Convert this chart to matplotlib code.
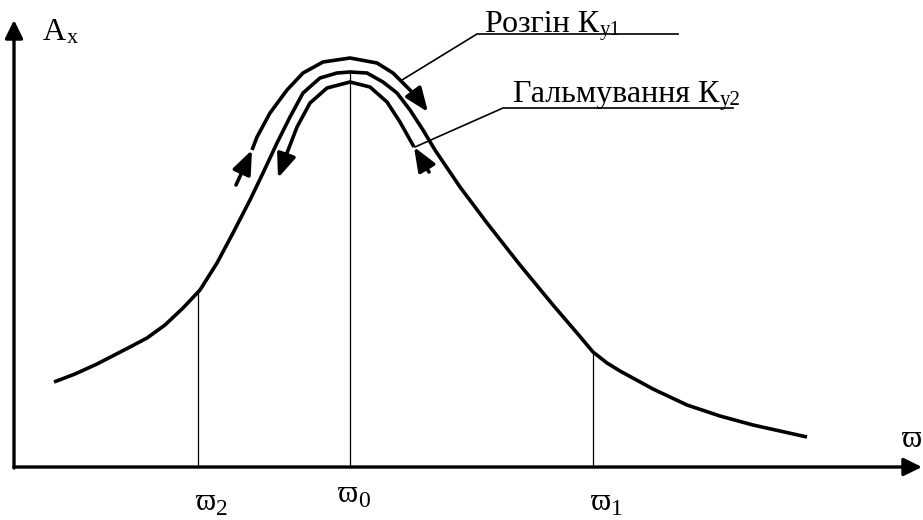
import matplotlib
matplotlib.use('Agg')
import matplotlib.pyplot as plt

plt.rcParams['font.family'] = ['Liberation Serif', 'DejaVu Serif']

# Main resonance curve A_x(ϖ)  (x: frequency units, y: amplitude units)
curve_w = [40, 61, 83, 116, 133, 151, 169, 186, 203, 219, 236, 249, 263, 276, 289, 306, 323, 336, 353,
           369, 383, 396, 409, 421, 446, 473, 506, 539, 563, 579, 593, 606, 639, 673, 706, 739, 793]
curve_a = [85, 93, 103, 120, 129, 142, 159, 177, 204, 234, 267, 294, 324, 350, 374, 389, 394, 395, 394,
           385, 374, 357, 337, 317, 280, 244, 202, 162, 134, 115, 104, 96, 78, 62, 51, 42, 30]

# Acceleration arc (Розгін)
accel_w = [238, 243, 256, 273, 289, 309, 336, 363, 379, 393, 403, 414]
accel_a = [317, 330, 354, 377, 394, 405, 409, 404, 394, 380, 370, 355]
accel_tail = (222, 282)

# Braking arc (Гальмування)
brake_w = [264, 273, 283, 296, 313, 336, 356, 373, 386, 400]
brake_a = [289, 314, 340, 364, 379, 385, 380, 365, 345, 320]
brake_tail = (415, 295)

# Characteristic frequencies and curve values there
omega_w = [184, 336, 579]
omega_a = [177, 395, 115]
omega_sub = ['2', '0', '1']

fig = plt.figure(figsize=(9.23, 5.2), dpi=100)
ax = fig.add_axes([0, 0, 1, 1])
ax.set_xlim(-14, 909)
ax.set_ylim(-53, 467)
ax.axis('off')

K = 'black'
# axes with arrows
ax.annotate('', xy=(908, 0), xytext=(0, 0),
            arrowprops=dict(arrowstyle='-|>,head_length=0.55,head_width=0.27', mutation_scale=20,
                            lw=2.4, color=K, shrinkA=0, shrinkB=0))
ax.annotate('', xy=(0, 447), xytext=(0, -1),
            arrowprops=dict(arrowstyle='-|>,head_length=0.55,head_width=0.27', mutation_scale=20,
                            lw=2.4, color=K, shrinkA=0, shrinkB=0))

# main curve
ax.plot(curve_w, curve_a, color=K, lw=2.6, solid_capstyle='butt', solid_joinstyle='round')

# vertical markers
for w, a in zip(omega_w, omega_a):
    ax.plot([w, w], [0, a], color=K, lw=0.9)

arrow_small = dict(arrowstyle='-|>,head_length=0.8,head_width=0.32', mutation_scale=18,
                   lw=2.6, color=K, shrinkA=0, shrinkB=0)

# acceleration arc: arrow tip at the right end, separate arrow at left
ax.plot(accel_w[:-1], accel_a[:-1], color=K, lw=2.6, solid_capstyle='butt', solid_joinstyle='round')
ax.annotate('', xy=(accel_w[-1], accel_a[-1]), xytext=(accel_w[-2], accel_a[-2]), arrowprops=arrow_small)
ax.annotate('', xy=(accel_w[0], accel_a[0]), xytext=accel_tail, arrowprops=arrow_small)

# braking arc: arrow tip at left end, separate arrow at right
ax.plot(brake_w[1:], brake_a[1:], color=K, lw=2.6, solid_capstyle='butt', solid_joinstyle='round')
ax.annotate('', xy=(brake_w[0], brake_a[0]), xytext=(brake_w[1], brake_a[1]), arrowprops=arrow_small)
ax.annotate('', xy=(brake_w[-1], brake_a[-1]), xytext=brake_tail, arrowprops=arrow_small)

# leader lines and underlines
ax.plot([388, 463, 664], [387, 433, 433], color=K, lw=1.2)
ax.plot([401, 489, 719], [320, 359, 359], color=K, lw=1.2)

def label(x, y, main, sub, fs, sfs, dx=0.5, dy=-3, ha='left'):
    t = ax.text(x, y, main, fontsize=fs, ha=ha, va='baseline', color=K)
    ax.annotate(sub, xy=(1, 0), xycoords=t, xytext=(dx, dy), textcoords='offset points',
                fontsize=sfs, ha='left', va='bottom', color=K)
    return t

label(471, 435, 'Розгін К', 'у1', 23, 15, dy=-1)
label(499, 365, 'Гальмування К', 'у2', 23, 15, dy=-1)
label(29, 427, 'A', 'x', 23, 16, dy=-1)

for w, s, yb in zip(omega_w, omega_sub, [-43, -35, -43]):
    label(w + 14 - 16 if s != '0' else w - 12, yb, 'ϖ', s, 22, 17, dx=0, dy=-2)

ax.text(888, 20, 'ϖ', fontsize=22, ha='left', va='baseline', color=K)

fig.savefig('out.png', dpi=100)
